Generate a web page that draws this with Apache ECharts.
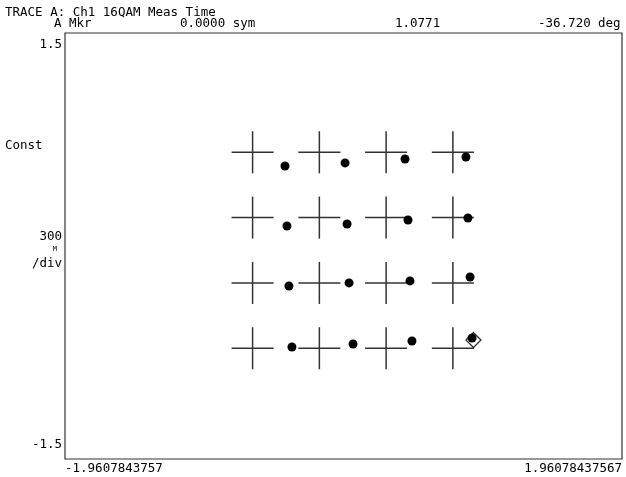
<!DOCTYPE html>
<html>
<head>
<meta charset="utf-8">
<script src="https://cdn.jsdelivr.net/npm/echarts@6/dist/echarts.min.js"></script>
<style>
  html, body { margin: 0; padding: 0; background: #fff; }
  #main { width: 626px; height: 477px; }
</style>
</head>
<body>
<div id="main"></div>
<script>
// axis limits (as printed on the instrument)
var xMin = -1.9607843757;
var xMax = 1.96078437567;
var yMin = -1.5;
var yMax = 1.5;

// ideal constellation points (crosses)
var idealI = [-0.64, -0.17, 0.30, 0.77];
var idealQ = [0.66, 0.20, -0.26, -0.72];

// measured symbols, one array per row (top to bottom), [I, Q]
var row1 = [[-0.412, 0.563], [0.011, 0.585], [0.433, 0.613], [0.862, 0.627]];
var row2 = [[-0.398, 0.141], [0.025, 0.155], [0.454, 0.183], [0.876, 0.197]];
var row3 = [[-0.384, -0.282], [0.039, -0.260], [0.468, -0.246], [0.891, -0.218]];
var row4 = [[-0.363, -0.711], [0.067, -0.690], [0.482, -0.669], [0.905, -0.648]];

// marker position
var marker = [[0.915, -0.662]];

// header / labels
var headerLine1 = 'TRACE A: Ch1 16QAM Meas Time';
var mkrLabel = 'A Mkr';
var mkrX = '0.0000 sym';
var mkrMag = '1.0771';
var mkrPhase = '-36.720';
var mkrUnit = 'deg';
var yTopLabel = '1.5';
var yBottomLabel = '-1.5';
var xLeftLabel = '-1.9607843757';
var xRightLabel = '1.96078437567';

var crosses = [];
idealQ.forEach(function (q) {
  idealI.forEach(function (i) { crosses.push([i, q]); });
});
var measured = row1.concat(row2, row3, row4);

var font = 'DejaVu Sans Mono';
var ink = '#000';
var armLen = 0.148;

var chart = echarts.init(document.getElementById('main'));

function txt(x, y, s, align, size) {
  return {
    type: 'text', x: x, y: y,
    style: {
      text: s, fill: ink, font: (size || 12.5) + 'px "' + font + '"',
      textAlign: align || 'left', textVerticalAlign: 'middle'
    }
  };
}

chart.setOption({
  animation: false,
  backgroundColor: '#fff',
  grid: {
    left: 65, right: 4, top: 33, bottom: 18,
    show: true, borderColor: '#333', borderWidth: 1.2, backgroundColor: '#fff'
  },
  xAxis: {
    type: 'value', min: xMin, max: xMax,
    axisLine: { show: false }, axisTick: { show: false },
    axisLabel: { show: false }, splitLine: { show: false }
  },
  yAxis: {
    type: 'value', min: yMin, max: yMax,
    axisLine: { show: false }, axisTick: { show: false },
    axisLabel: { show: false }, splitLine: { show: false }
  },
  series: [
    {
      type: 'custom',
      data: crosses,
      renderItem: function (params, api) {
        var c = api.coord([api.value(0), api.value(1)]);
        var e = api.coord([api.value(0) + armLen, api.value(1)]);
        var r = e[0] - c[0];
        var st = { stroke: '#333', lineWidth: 1.5 };
        return {
          type: 'group',
          children: [
            { type: 'line', shape: { x1: c[0] - r, y1: c[1], x2: c[0] + r, y2: c[1] }, style: st },
            { type: 'line', shape: { x1: c[0], y1: c[1] - r, x2: c[0], y2: c[1] + r }, style: st }
          ]
        };
      },
      silent: true
    },
    {
      type: 'scatter',
      data: marker,
      symbol: 'diamond',
      symbolSize: 15,
      itemStyle: { color: '#fff', borderColor: '#000', borderWidth: 1.3 },
      z: 3
    },
    {
      type: 'scatter',
      data: measured,
      symbol: 'circle',
      symbolSize: 9,
      itemStyle: { color: '#000', opacity: 1 },
      z: 4
    }
  ],
  graphic: [
    txt(5, 13, headerLine1),
    txt(54, 24, mkrLabel),
    txt(180, 24, mkrX),
    txt(395, 24, mkrMag),
    txt(538, 24, mkrPhase),
    txt(598, 24, mkrUnit),
    txt(62, 45, yTopLabel, 'right'),
    txt(62, 445, yBottomLabel, 'right'),
    txt(5, 146, 'Const'),
    txt(62, 237, '300', 'right'),
    txt(57, 249, 'M', 'right', 7),
    txt(62, 264, '/div', 'right'),
    txt(65, 469, xLeftLabel),
    txt(622, 469, xRightLabel, 'right')
  ]
});
</script>
</body>
</html>
